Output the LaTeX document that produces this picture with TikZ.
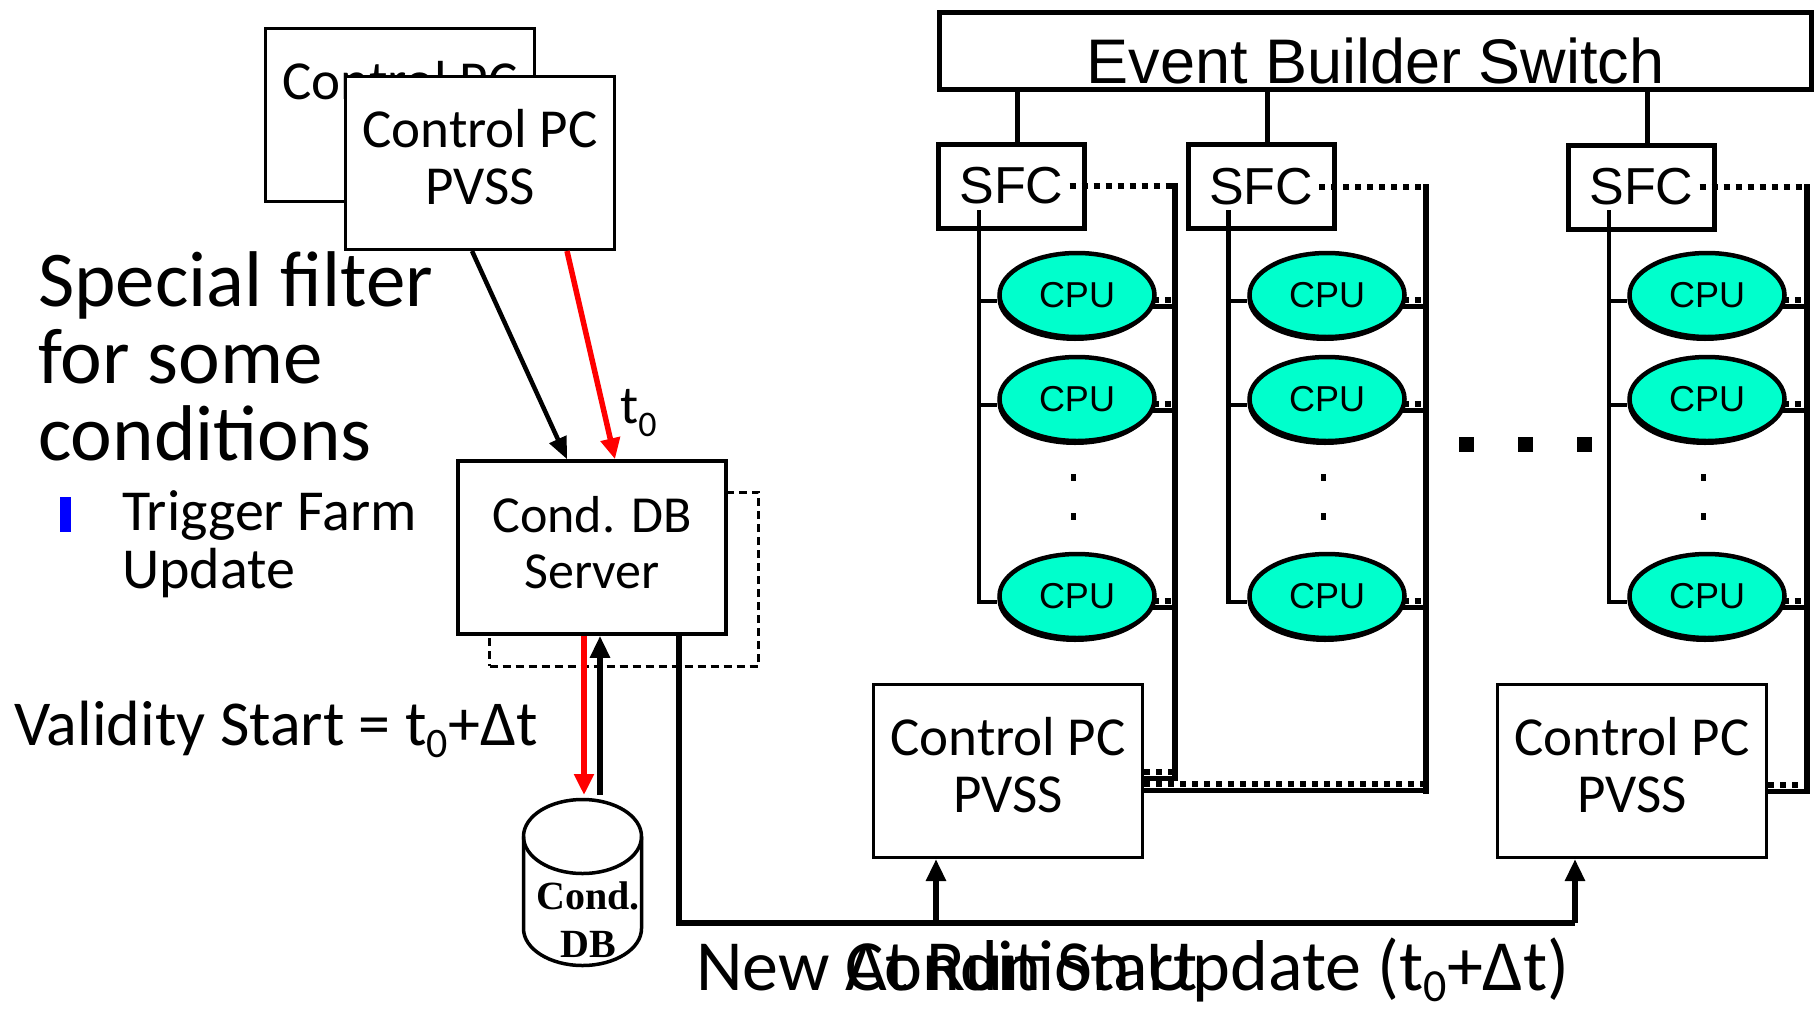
\documentclass[tikz,border=0pt]{standalone}
\usepackage{fontspec}
\setmainfont{Liberation Sans}
\newfontfamily\handfont{Carlito}
\newfontfamily\dbfont{Liberation Serif}
\usepackage{tikz}
\usetikzlibrary{
  arrows.meta,
  shapes.geometric,
  chains,
  positioning,
  scopes,
  shadows
}
\definecolor{cpugreen}{RGB}{0,255,204}
% lowered digit, as the hand font sets it
\newcommand\lowdigit[3]{\raisebox{-#3}{\fontsize{#2}{#2}\selectfont #1}}

\begin{document}
\begin{tikzpicture}[
      x=1pt,y=-1pt,
      pcbox/.style={
         rectangle,
         draw=black,
         line width=3pt,
         fill=white,
         minimum width=269pt,
         minimum height=173pt,
         align=center,
         text depth=12pt,
         font=\handfont\fontsize{55}{57}\selectfont
      },
      srvbox/.style={
         rectangle,
         draw=black,
         line width=3.5pt,
         fill=white,
         minimum width=268pt,
         minimum height=173pt,
         align=center,
         text depth=10pt,
         font=\handfont\fontsize{52}{56}\selectfont
      },
      shadowbox/.style={
         rectangle,
         draw=black,
         line width=3pt,
         dash pattern=on 8pt off 5pt,
         minimum width=269pt,
         minimum height=174pt
      },
      switchbox/.style={
         rectangle,
         draw=black,
         line width=5pt,
         inner sep=0pt,
         minimum width=872pt,
         minimum height=77pt,
         text height=65pt,
         text depth=0pt,
         font=\fontsize{63}{70}\selectfont
      },
      sfcbox/.style={
         rectangle,
         draw=black,
         line width=5pt,
         fill=white,
         inner sep=0pt,
         minimum width=146pt,
         minimum height=84pt,
         font=\fontsize{52}{60}\selectfont
      },
      cpu/.style={
         ellipse,
         draw=black,
         line width=4.5pt,
         fill=cpugreen,
         inner sep=0pt,
         minimum width=155pt,
         minimum height=84pt,
         drop shadow={shadow xshift=-2pt,shadow yshift=-4pt,opacity=1,fill=black},
         font=\fontsize{36}{40}\selectfont
      },
      vdot/.style={rectangle,fill=black,inner sep=0pt,minimum width=5pt,minimum height=7pt},
      hdot/.style={rectangle,fill=black,inner sep=0pt,minimum size=15pt},
      note/.style={anchor=base west,inner sep=0pt,align=left},
      point/.style={coordinate},
      arrowtip/.style={line width=5.5pt,-{Triangle[length=22pt,width=19pt]}},
      thinarrow/.style={line width=4.5pt,-{Triangle[length=22pt,width=18pt]}},
      redarrow/.style={red,line width=5.5pt,-{Triangle[length=21pt,width=19pt]}},
      linkline/.style={line width=5pt},
      sfcline/.style={line width=4.5pt},
      dotline/.style={line width=6pt,dash pattern=on 6pt off 6pt},
      railv/.style={line width=6pt,line cap=rect},
      railline/.style={
         line width=5pt,
         postaction={draw,line width=6pt,dash pattern=on 6pt off 6pt,transform canvas={yshift=6.5pt}}
      },
      busline/.style={line width=6pt},
      dbline/.style={line width=3.5pt},
      hv path/.style={to path={-| (\tikztotarget)}},
      vh path/.style={to path={|- (\tikztotarget)}}
    ]
\useasboundingbox (0,0) rectangle (1816,1010);

% left part: control PCs and the conditions DB server
\node (ctlback) [pcbox] at (400,115) {Control PC\\PVSS};
\node (ctlfront) [pcbox] at (480,163) {Control PC\\PVSS};
\node (special) [note,font=\handfont\fontsize{79}{77}\selectfont] at (38,460) {Special filter\\for some\\conditions};
\node (bullet) [fill=blue,inner sep=0pt,minimum width=11pt,minimum height=35pt] at (65.5,514.5) {};
\node (trigger) [note,font=\handfont\fontsize{58}{58}\selectfont] at (122,588) {Trigger Farm\\Update};
\node (srvshadow) [shadowbox] at (624,579) {};
\node (condsrv) [srvbox] at (592,547.5) {Cond. DB\\Server};
\node (tzero) [note,font=\handfont\fontsize{54}{56}\selectfont] at (620,423) {t\lowdigit{0}{36pt}{13pt}};
\node (validity) [note,font=\handfont\fontsize{64}{64}\selectfont] at (14,745) {Validity Start = t\lowdigit{0}{42pt}{12pt}+Δt};

% the DB cylinder
\draw[dbline] (523.5,836.5) -- (523.5,928.5) arc[start angle=180,end angle=360,x radius=59pt,y radius=37pt] -- (641.5,836.5);
\draw[dbline] (582.5,836.5) ellipse [x radius=59pt,y radius=37pt];
\node (conddb) [font=\dbfont\bfseries\fontsize{40}{48}\selectfont,align=center,inner sep=0pt,anchor=base] at (588,957) {Cond.\\DB};
\node (dbin) [point] at (592,795) {};

\draw[thinarrow] ([xshift=-8pt]ctlfront.south) -- ([xshift=-25pt]condsrv.north);
\draw[redarrow] ([xshift=87pt]ctlfront.south) -- ([xshift=23pt]condsrv.north);
\draw[redarrow] ([xshift=-8pt]condsrv.south) -- ([xshift=-8pt]dbin);
\draw[arrowtip] ([xshift=8pt]dbin) -- ([xshift=8pt]condsrv.south);

% event builder and the farm
\node (switch) [switchbox] at (1375.5,51) {Event Builder Switch};
\node (sfc1) [sfcbox] at (1011.5,186) {SFC};
\node (sfc2) [sfcbox] at (1261,186.5) {SFC};
\node (sfc3) [sfcbox] at (1641.5,187) {SFC};

\node (c11) [cpu] at (1077,295) {CPU};
\node (c12) [cpu] at (1077,399) {CPU};
\node (c13) [cpu] at (1077,596) {CPU};
\node (c21) [cpu] at (1327,295) {CPU};
\node (c22) [cpu] at (1327,399) {CPU};
\node (c23) [cpu] at (1327,596) {CPU};
\node (c31) [cpu] at (1707,295) {CPU};
\node (c32) [cpu] at (1707,399) {CPU};
\node (c33) [cpu] at (1707,596) {CPU};

\node (d11) [vdot] at (1073.5,477) {};
\node (d12) [vdot] at (1073.5,516) {};
\node (d21) [vdot] at (1323,477) {};
\node (d22) [vdot] at (1323,516) {};
\node (d31) [vdot] at (1703.5,477) {};
\node (d32) [vdot] at (1703.5,516) {};

\node (more1) [hdot] at (1466.5,444.5) {};
\node (more2) [hdot] at (1525.5,444.5) {};
\node (more3) [hdot] at (1584.5,444.5) {};

\node (ctlA) [pcbox] at (1008,771) {Control PC\\PVSS};
\node (ctlB) [pcbox] at (1632,771) {Control PC\\PVSS};

\node (s1) [point] at (979,210) {};
\node (s2) [point] at (1228.5,210) {};
\node (s3) [point] at (1609,210) {};
\node (r1t) [point] at (1175,186) {};
\node (r1b) [point] at (1175,778) {};
\node (r2t) [point] at (1426,186.5) {};
\node (r2b) [point] at (1426,790.5) {};
\node (r3t) [point] at (1807,187) {};
\node (r3b) [point] at (1807,791) {};

\node (busout) [point] at ([xshift=87pt]condsrv.south) {};
\node (bus1) [point] at (936,923) {};
\node (bus2) [point] at (1575,923) {};

\node (newcond) [note,font=\handfont\fontsize{72}{80}\selectfont] at (696,990) {New \rlap{At Run Start}Condition Update (t\lowdigit{0}{46pt}{11pt}+Δt)};

% switch to SFCs
\draw[linkline] ([xshift=6pt]sfc1.north) -- ([xshift=6pt]sfc1.north |- switch.south);
\draw[linkline] ([xshift=6pt]sfc2.north) -- ([xshift=6pt]sfc2.north |- switch.south);
\draw[linkline] ([xshift=6pt]sfc3.north) -- ([xshift=6pt]sfc3.north |- switch.south);

% SFCs to their CPUs
\draw[sfcline] (s1) |- ([yshift=-6pt]c13.west);
\draw[sfcline] ([yshift=-6pt]c11.west -| s1) -- ([yshift=-6pt]c11.west);
\draw[sfcline] ([yshift=-6pt]c12.west -| s1) -- ([yshift=-6pt]c12.west);
\draw[sfcline] (s2) |- ([yshift=-6pt]c23.west);
\draw[sfcline] ([yshift=-6pt]c21.west -| s2) -- ([yshift=-6pt]c21.west);
\draw[sfcline] ([yshift=-6pt]c22.west -| s2) -- ([yshift=-6pt]c22.west);
\draw[sfcline] (s3) |- ([yshift=-6pt]c33.west);
\draw[sfcline] ([yshift=-6pt]c31.west -| s3) -- ([yshift=-6pt]c31.west);
\draw[sfcline] ([yshift=-6pt]c32.west -| s3) -- ([yshift=-6pt]c32.west);

% control network
\draw[dotline] ([xshift=58pt]sfc1.center) -- (r1t);
\draw[dotline] ([xshift=58pt]sfc2.center) -- (r2t);
\draw[dotline] ([xshift=58pt]sfc3.center) -- (r3t);
  { [start chain]
       \chainin (r1t);
       \chainin (r1b)    [join=by railv];
  }
  { [start chain]
       \chainin (r2t);
       \chainin (r2b)    [join=by railv];
  }
  { [start chain]
       \chainin (r3t);
       \chainin (r3b)    [join=by railv];
  }
\draw[railline] ([xshift=-4pt,yshift=-11pt]c11.east) -- ([yshift=-11pt]c11.east -| r1b);
\draw[railline] ([xshift=-4pt,yshift=-11pt]c12.east) -- ([yshift=-11pt]c12.east -| r1b);
\draw[railline] ([xshift=-4pt,yshift=-11pt]c13.east) -- ([yshift=-11pt]c13.east -| r1b);
\draw[railline] ([xshift=-4pt,yshift=-11pt]c21.east) -- ([yshift=-11pt]c21.east -| r2b);
\draw[railline] ([xshift=-4pt,yshift=-11pt]c22.east) -- ([yshift=-11pt]c22.east -| r2b);
\draw[railline] ([xshift=-4pt,yshift=-11pt]c23.east) -- ([yshift=-11pt]c23.east -| r2b);
\draw[railline] ([xshift=-4pt,yshift=-11pt]c31.east) -- ([yshift=-11pt]c31.east -| r3b);
\draw[railline] ([xshift=-4pt,yshift=-11pt]c32.east) -- ([yshift=-11pt]c32.east -| r3b);
\draw[railline] ([xshift=-4pt,yshift=-11pt]c33.east) -- ([yshift=-11pt]c33.east -| r3b);
\draw[railline] ([yshift=-7pt]ctlA.east) -- (r1b);
\draw[railline] ([yshift=-19.5pt]ctlA.east) -- (r2b);
\draw[railline] ([yshift=-20pt]ctlB.east) -- (r3b);

% new condition bus
  { [start chain]
       \chainin (busout);
       \chainin (bus2)    [join=by {vh path,busline}];
  }
\draw[arrowtip] (bus1) -- (bus1 |- ctlA.south);
\draw[arrowtip] (bus2) -- (bus2 |- ctlB.south);
\end{tikzpicture}
\end{document}
